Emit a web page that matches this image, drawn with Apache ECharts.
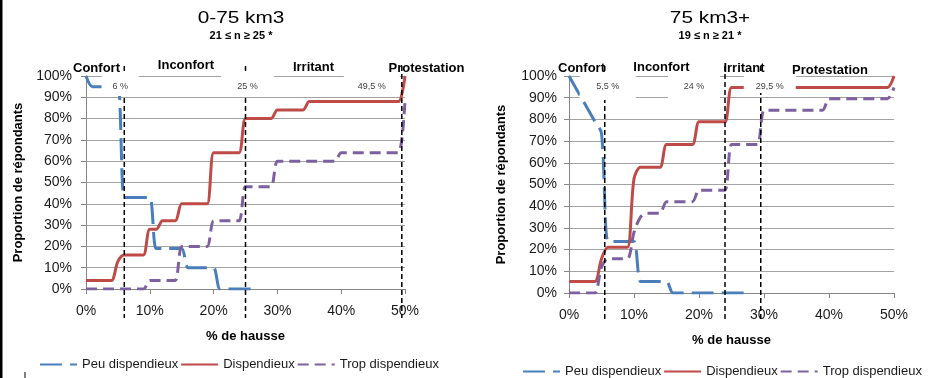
<!DOCTYPE html>
<html>
<head>
<meta charset="utf-8">
<script src="https://cdn.jsdelivr.net/npm/echarts@6/dist/echarts.min.js"></script>
<style>
  html, body { margin: 0; padding: 0; background: #ffffff; }
  #chart { width: 931px; height: 378px; }
</style>
</head>
<body>
<div id="chart"></div>
<script>
// Price increase (% de hausse), one point per percent
const HAUSSE = [0,1,2,3,4,5,6,7,8,9,10,11,12,13,14,15,16,17,18,19,20,21,22,23,24,25,26,27,28,29,30,31,32,33,34,35,36,37,38,39,40,41,42,43,44,45,46,47,48,49,50];

// Group 0-75 km3 : cumulative share of respondents (%)
const PEU_0_75  = [100,95,95,95,95,95,43,43,43,43,43,19,19,19,19,19,10,10,10,10,10,0,0,0,0,0,0,0];
const DISP_0_75 = [4,4,4,4,4,13,16,16,16,16,28,28,32,32,32,40,40,40,40,40,64,64,64,64,64,80,80,80,80,80,84,84,84,84,84,88,88,88,88,88,88,88,88,88,88,88,88,88,88,88,100];
const TROP_0_75 = [0,0,0,0,0,0,0,0,0,0,4,4,4,4,4,20,20,20,20,20,32,32,32,32,32,48,48,48,48,48,60,60,60,60,60,60,60,60,60,60,64,64,64,64,64,64,64,64,64,64,88];

// Group 75 km3+
const PEU_75  = [100,94.7,89.5,84.2,78.9,73.7,23.7,23.7,23.7,23.7,23.7,5.3,5.3,5.3,5.3,5.3,0,0,0,0,0,0,0,0,0,0,0,0];
const DISP_75 = [5.3,5.3,5.3,5.3,5.3,15.8,21.1,21.1,21.1,21.1,52.6,57.9,57.9,57.9,57.9,68.4,68.4,68.4,68.4,68.4,78.9,78.9,78.9,78.9,78.9,94.7,94.7,94.7,94.7,94.7,94.7,94.7,94.7,94.7,94.7,94.7,94.7,94.7,94.7,94.7,94.7,94.7,94.7,94.7,94.7,94.7,94.7,94.7,94.7,94.7,100];
const TROP_75 = [0,0,0,0,0,12,15.8,15.8,15.8,15.8,28,35,36.8,36.8,36.8,42.1,42.1,42.1,42.1,42.1,47.4,47.4,47.4,47.4,47.4,68.4,68.4,68.4,68.4,68.4,84.2,84.2,84.2,84.2,84.2,84.2,84.2,84.2,84.2,84.2,89.5,89.5,89.5,89.5,89.5,89.5,89.5,89.5,89.5,89.5,94.7];

// Thresholds between zones
const SEUILS_0_75 = [6, 25, 49.5];
const SEUILS_0_75_TXT = ['6 %', '25 %', '49,5 %'];
const SEUILS_75 = [5.5, 24, 29.5];
const SEUILS_75_TXT = ['5,5 %', '24 %', '29,5 %'];

const ZONES = ['Confort', 'Inconfort', 'Irritant', 'Protestation'];
const SERIES_NAMES = ['Peu dispendieux', 'Dispendieux', 'Trop dispendieux'];
const TITLES = ['0-75 km3', '75 km3+'];
const SUBTITLES = ['21 \u2264 n \u2265 25 *', '19 \u2264 n \u2265 21 *'];
const X_NAME = '% de hausse';
const Y_NAME = 'Proportion de r\u00e9pondants';

const FONT = '"Liberation Sans", Arial, sans-serif';
const COLORS = ['#4a7ebb', '#be4b48', '#7d60a0'];
const DASHES = [[22, 8], 'solid', [11, 6]];

function pairs(values) {
  return values.map((v, i) => [HAUSSE[i], v]);
}

function xAxisFor(gridIndex) {
  return {
    gridIndex, type: 'value', min: 0, max: 50, interval: 10,
    axisLine: { show: true, lineStyle: { color: '#868686', width: 1 } },
    axisTick: { show: true, length: 5, lineStyle: { color: '#868686' } },
    axisLabel: { formatter: '{value}%', fontSize: 14, color: '#1a1a1a', margin: 15, fontFamily: FONT },
    splitLine: { show: false },
    name: X_NAME, nameLocation: 'middle', nameGap: 41,
    nameTextStyle: { fontSize: 13, fontWeight: 'bold', color: '#000', fontFamily: FONT }
  };
}

function yAxisFor(gridIndex, margin) {
  return {
    gridIndex, type: 'value', min: 0, max: 100, interval: 10,
    axisLine: { show: true, lineStyle: { color: '#868686', width: 1 } },
    axisTick: { show: true, length: 5, lineStyle: { color: '#868686' } },
    axisLabel: { formatter: '{value}%', fontSize: 14, color: '#1a1a1a', margin, fontFamily: FONT },
    splitLine: { show: true, lineStyle: { color: '#a3a3a3', width: 1 } },
    name: Y_NAME, nameLocation: 'middle', nameGap: 61, nameRotate: 90,
    nameTextStyle: { fontSize: 13, fontWeight: 'bold', color: '#000', fontFamily: FONT }
  };
}

function lineSeries(name, idx, gridIndex, values) {
  return {
    name, type: 'line', xAxisIndex: gridIndex, yAxisIndex: gridIndex,
    data: pairs(values), smooth: 0.3,
    symbol: 'none', showSymbol: false, connectNulls: false,
    lineStyle: { color: COLORS[idx], width: 3, type: DASHES[idx], cap: 'butt' },
    itemStyle: { color: COLORS[idx] },
    z: 3
  };
}

function legendFor(left, top) {
  return {
    left, top, width: 420, padding: 0, orient: 'horizontal',
    itemWidth: 37, itemHeight: 14, itemGap: 2,
    data: SERIES_NAMES, selectedMode: false,
    itemStyle: { color: 'rgba(0,0,0,0)', borderColor: 'rgba(0,0,0,0)', borderWidth: 0 },
    textStyle: { fontSize: 13, color: '#1a1a1a', fontFamily: FONT }
  };
}

const option = {
  animation: false,
  backgroundColor: '#ffffff',
  grid: [
    { left: 86, right: 526, top: 76, bottom: 89 },
    { left: 569, right: 37, top: 76, bottom: 85 }
  ],
  xAxis: [xAxisFor(0), xAxisFor(1)],
  yAxis: [yAxisFor(0, 14), yAxisFor(1, 12)],
  legend: [legendFor(39, 358), legendFor(522, 365)],
  series: [
    lineSeries(SERIES_NAMES[0], 0, 0, PEU_0_75),
    lineSeries(SERIES_NAMES[1], 1, 0, DISP_0_75),
    lineSeries(SERIES_NAMES[2], 2, 0, TROP_0_75),
    lineSeries(SERIES_NAMES[0], 0, 1, PEU_75),
    lineSeries(SERIES_NAMES[1], 1, 1, DISP_75),
    lineSeries(SERIES_NAMES[2], 2, 1, TROP_75)
  ]
};

const chart = echarts.init(document.getElementById('chart'), null, { renderer: 'canvas' });
chart.setOption(option);

// Page layout for the annotation layer of each panel
const PANELS = [
  {
    grid: 0, seuils: SEUILS_0_75, texts: SEUILS_0_75_TXT,
    titleX: 241, lineTop: 66, lineBottom: 318,
    labelDx: [-4, 2, -30], boxW: [37, 53, 56], boxTop: 73, boxBottom: [96, 96, 96],
    zonePos: [[96.5, 68], [186, 65.5], [313.5, 67], [426.5, 68]]
  },
  {
    grid: 1, seuils: SEUILS_75, texts: SEUILS_75_TXT,
    titleX: 710, lineTop: 66, lineBottom: 320,
    labelDx: [3, -31, 9], boxW: [56, 52, 52], boxTop: 73, boxBottom: [100, 100, 93],
    zonePos: [[581.5, 68], [661.5, 67], [744, 68], [830, 70]]
  }
];

const elements = [];
PANELS.forEach((p, k) => {
  elements.push({
    type: 'text', x: p.titleX, y: 19, scaleX: 1.3, z: 100,
    style: { text: TITLES[k], font: '16px ' + FONT, fill: '#000', align: 'center', verticalAlign: 'middle' }
  });
  elements.push({
    type: 'text', x: p.titleX, y: 36, z: 100,
    style: { text: SUBTITLES[k], font: 'bold 11px ' + FONT, fill: '#000', align: 'center', verticalAlign: 'middle' }
  });
  p.seuils.forEach((s, i) => {
    const px = chart.convertToPixel({ gridIndex: p.grid }, [s, 0])[0];
    elements.push({
      type: 'line', z: 90,
      shape: { x1: px, y1: p.lineTop, x2: px, y2: p.lineBottom },
      style: { stroke: '#000', lineWidth: 1.5, lineDash: [5, 3] }
    });
    const cx = px + p.labelDx[i];
    elements.push({
      type: 'rect', z: 95,
      shape: { x: cx - p.boxW[i] / 2, y: p.boxTop, width: p.boxW[i], height: p.boxBottom[i] - p.boxTop },
      style: { fill: '#ffffff' }
    });
    elements.push({
      type: 'text', x: cx, y: 87, z: 96,
      style: { text: p.texts[i], font: '9px ' + FONT, fill: '#404040', align: 'center', verticalAlign: 'middle' }
    });
  });
  ZONES.forEach((z, i) => {
    elements.push({
      type: 'text', x: p.zonePos[i][0], y: p.zonePos[i][1], z: 100,
      style: { text: z, font: 'bold 13px ' + FONT, fill: '#000', align: 'center', verticalAlign: 'middle' }
    });
  });
});

// Frame edge on the left side
elements.push({ type: 'rect', z: 100, shape: { x: 0, y: 0, width: 2.5, height: 378 }, style: { fill: '#000' } });
elements.push({ type: 'line', z: 100, shape: { x1: 25, y1: 372, x2: 25, y2: 378 }, style: { stroke: '#000', lineWidth: 1 } });

chart.setOption({ graphic: { elements } });
</script>
</body>
</html>
